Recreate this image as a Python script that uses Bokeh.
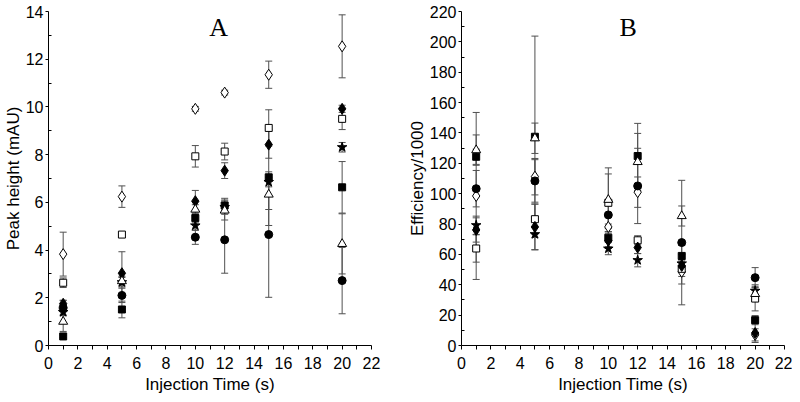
from bokeh.plotting import figure
from bokeh.layouts import row
from bokeh.models import FixedTicker, Label, Range1d
from bokeh.embed import file_html
from bokeh.resources import INLINE

times = [1, 5, 10, 12, 15, 20]

# Panel A: peak height (mAU)
a_open_diamond = [3.83, 6.24, 9.92, 10.6, 11.35, 12.54]
a_open_diamond_err = [0.92, 0.45, 0.1, 0.1, 0.57, 1.32]
a_open_square = [2.63, 4.65, 7.93, 8.13, 9.12, 9.5]
a_open_square_err = [0.2, 0.1, 0.45, 0.35, 0.76, 0.45]
a_filled_diamond = [1.75, 3.03, 6.05, 7.33, 8.42, 9.92]
a_filled_diamond_err = [0.15, 0.9, 0.45, 0.33, 0.57, 0.15]
a_star = [1.4, 2.65, 5.03, 5.8, 6.85, 8.31]
a_star_err = [0.15, 0.2, 0.2, 0.3, 0.2, 0.2]
a_filled_square = [0.38, 1.51, 5.34, 5.87, 7.05, 6.63]
a_filled_square_err = [0.05, 0.35, 0.2, 0.3, 2.02, 1.08]
a_open_triangle = [1.0, 2.7, 5.7, 5.66, 6.33, 4.26]
a_open_triangle_err = [0.41, 0.2, 0.2, 0.4, 0.63, 1.26]
a_filled_circle = [1.58, 2.1, 4.54, 4.43, 4.65, 2.72]
a_filled_circle_err = [0.3, 0.3, 0.3, 1.4, 2.63, 1.39]

# Panel B: efficiency / 1000
b_open_diamond = [98.5, 111.2, 78.1, 101, 48.5, 7]
b_open_diamond_err = [55, 12, 8, 10, 8, 4]
b_open_square = [63.9, 83.2, 94, 69.3, 50.5, 30.9]
b_open_square_err = [9, 10, 19, 3, 5, 8.1]
b_filled_diamond = [76.1, 78.1, 69, 64.5, 52.4, 8.2]
b_filled_diamond_err = [8, 15, 5, 4, 4, 6.2]
b_star = [79.2, 73.3, 63.8, 56.2, 54, 36]
b_star_err = [6, 10.3, 4, 4.4, 6, 4]
b_filled_square = [124.3, 137.5, 71, 124.8, 59, 16.7]
b_filled_square_err = [5, 66.3, 6, 21.5, 7, 3]
b_open_triangle = [128.7, 136.5, 96, 120.9, 85.3, 34]
b_open_triangle_err = [10, 10, 21, 18.8, 6.6, 4]
b_filled_circle = [103.3, 108.4, 86, 105.1, 67.8, 44.7]
b_filled_circle_err = [12, 14, 6, 24.8, 41, 6.6]

x_ticks = list(range(0, 23, 2))
x_minor = list(range(1, 23, 2))
a_ticks = list(range(0, 15, 2))
a_minor = list(range(1, 15, 2))
b_ticks = list(range(0, 221, 20))
b_minor = list(range(10, 221, 20))

FONT = "Liberation Sans"
ERR_COLOR = "#505050"

STYLES = {
    "open_diamond": dict(marker="diamond", size=11, fill_color="white"),
    "open_square": dict(marker="square", size=7, fill_color="white"),
    "filled_diamond": dict(marker="diamond", size=11, fill_color="black"),
    "star": dict(marker="star", size=10, fill_color="black"),
    "filled_square": dict(marker="square", size=7, fill_color="black"),
    "open_triangle": dict(marker="triangle", size=9, fill_color="white"),
    "filled_circle": dict(marker="circle", size=8, fill_color="black"),
}


def make_fig(left, right, ymax, yt, ym, ylabel):
    p = figure(frame_width=323, frame_height=334, output_backend="svg", toolbar_location=None,
               x_range=Range1d(0, 22), y_range=Range1d(0, ymax),
               min_border_left=left, min_border_right=right,
               min_border_top=11, min_border_bottom=40)
    p.xgrid.visible = False
    p.ygrid.visible = False
    p.outline_line_color = None
    p.background_fill_color = "white"
    p.border_fill_color = "white"
    p.xaxis.ticker = FixedTicker(ticks=x_ticks, minor_ticks=x_minor)
    p.yaxis.ticker = FixedTicker(ticks=yt, minor_ticks=ym)
    for ax in (p.xaxis, p.yaxis):
        ax.axis_line_color = "black"
        ax.major_tick_line_color = "black"
        ax.minor_tick_line_color = "black"
        ax.major_tick_in = 0
        ax.major_label_text_font = FONT
        ax.major_label_text_font_size = "16px"
        ax.major_label_text_color = "black"
        ax.axis_label_text_font = FONT
        ax.axis_label_text_font_style = "normal"
        ax.axis_label_text_color = "black"
        ax.axis_label_text_font_size = "17px"
    p.xaxis.major_tick_out = 4
    p.xaxis.minor_tick_out = 4
    p.xaxis.minor_tick_in = 0
    p.xaxis.major_label_standoff = 7
    p.xaxis.axis_label_standoff = 3
    p.yaxis.major_tick_out = 3
    p.yaxis.minor_tick_out = 0
    p.yaxis.minor_tick_in = 3
    p.yaxis.major_label_standoff = 2
    p.yaxis.axis_label_standoff = 0
    p.xaxis.axis_label = "Injection Time (s)"
    p.yaxis.axis_label = ylabel
    return p


def draw_series(p, ys, errs, style):
    lo = [y - e for y, e in zip(ys, errs)]
    hi = [y + e for y, e in zip(ys, errs)]
    p.segment(x0=times, y0=lo, x1=times, y1=hi, line_color=ERR_COLOR, line_width=1)
    p.scatter(x=times + times, y=lo + hi, marker="dash", size=7,
              line_color=ERR_COLOR, line_width=1)


def draw_points(p, ys, style):
    p.scatter(x=times, y=ys, marker=style["marker"], size=style["size"],
              fill_color=style["fill_color"], line_color="black", line_width=1)


pa = make_fig(40, 28, 14, a_ticks, a_minor, "Peak height (mAU)")
pb = make_fig(62, 8, 220, b_ticks, b_minor, "Efficiency/1000")

a_series = [
    (a_open_diamond, a_open_diamond_err, "open_diamond"),
    (a_open_square, a_open_square_err, "open_square"),
    (a_filled_diamond, a_filled_diamond_err, "filled_diamond"),
    (a_star, a_star_err, "star"),
    (a_filled_square, a_filled_square_err, "filled_square"),
    (a_open_triangle, a_open_triangle_err, "open_triangle"),
    (a_filled_circle, a_filled_circle_err, "filled_circle"),
]
b_series = [
    (b_open_diamond, b_open_diamond_err, "open_diamond"),
    (b_open_square, b_open_square_err, "open_square"),
    (b_filled_diamond, b_filled_diamond_err, "filled_diamond"),
    (b_star, b_star_err, "star"),
    (b_filled_square, b_filled_square_err, "filled_square"),
    (b_open_triangle, b_open_triangle_err, "open_triangle"),
    (b_filled_circle, b_filled_circle_err, "filled_circle"),
]

for p, series in ((pa, a_series), (pb, b_series)):
    for ys, errs, key in series:
        draw_series(p, ys, errs, STYLES[key])
    for ys, errs, key in series:
        draw_points(p, ys, STYLES[key])

pa.add_layout(Label(x=11.58, y=13.32, text="A", text_font="Liberation Serif",
                    text_font_size="26px", text_align="center", text_baseline="alphabetic",
                    text_color="black"))
pb.add_layout(Label(x=11.35, y=209.3, text="B", text_font="Liberation Serif",
                    text_font_size="26px", text_align="center", text_baseline="alphabetic",
                    text_color="black"))

layout = row(pa, pb, spacing=0)
open("out.html", "w").write(file_html(layout, INLINE))
